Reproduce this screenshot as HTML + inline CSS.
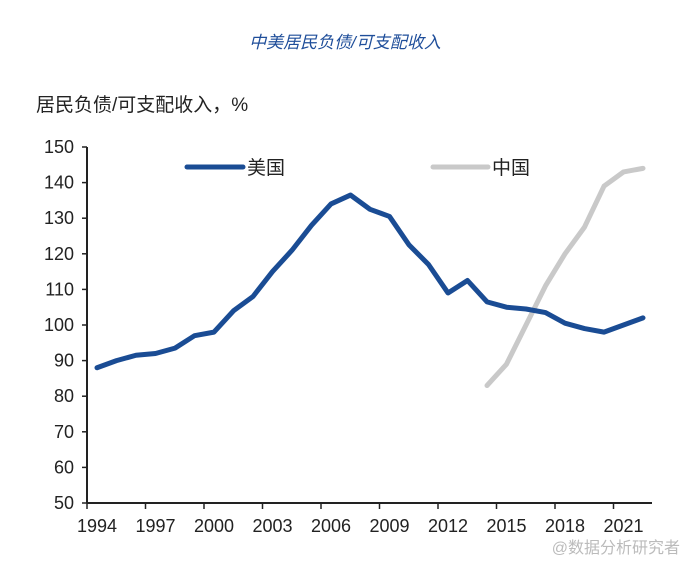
<!DOCTYPE html>
<html><head><meta charset="utf-8"><style>
body{margin:0;background:#fff;}
svg text{font-family:"Liberation Sans","Noto Sans CJK SC",sans-serif;}
</style></head><body>
<svg width="690" height="562" viewBox="0 0 690 562" xmlns="http://www.w3.org/2000/svg">
<rect width="690" height="562" fill="#fff"/>
<text x="345" y="48" text-anchor="middle" font-size="17" font-style="italic" fill="#1f4e9a">中美居民负债/可支配收入</text>
<text x="36" y="111" font-size="19" fill="#222">居民负债/可支配收入，%</text>
<g stroke="#222" stroke-width="2" fill="none">
<line x1="87" y1="147" x2="87" y2="503"/>
<line x1="87" y1="503" x2="652" y2="503"/>
</g>
<g stroke="#222" stroke-width="1.5" id="yt"></g>
<g font-size="18" fill="#222" text-anchor="end" id="yl"></g>
<g font-size="18" fill="#222" text-anchor="middle" id="xl"></g>
<g stroke="#222" stroke-width="1.5" id="xt"></g>
<line x1="187" y1="167" x2="243" y2="167" stroke="#1a4c94" stroke-width="5" stroke-linecap="round"/>
<text x="247" y="174" font-size="19" fill="#222">美国</text>
<line x1="433" y1="167" x2="488" y2="167" stroke="#c9c9c9" stroke-width="5" stroke-linecap="round"/>
<text x="492" y="174" font-size="19" fill="#222">中国</text>
<polyline id="cn" fill="none" stroke="#c9c9c9" stroke-width="5" stroke-linejoin="round" stroke-linecap="round"/>
<polyline id="us" fill="none" stroke="#1a4c94" stroke-width="5" stroke-linejoin="round" stroke-linecap="round"/>
<text x="680" y="553" text-anchor="end" font-size="16" fill="#bbb">@数据分析研究者</text>
</svg>
<script>
var ns="http://www.w3.org/2000/svg";
function Y(v){return 503-(v-50)*3.56;}
function X(i){return 97+i*19.5;}
function el(p,t,a,txt){var e=document.createElementNS(ns,t);for(var k in a)e.setAttribute(k,a[k]);if(txt)e.textContent=txt;document.getElementById(p).appendChild(e);}
for(var v=50;v<=150;v+=10){var y=Y(v);el("yt","line",{x1:82,y1:y,x2:87,y2:y});el("yl","text",{x:74,y:y+6},String(v));}
for(var k=0;k<10;k++){var x=87+k*58.5;el("xt","line",{x1:x,y1:503,x2:x,y2:509});el("xl","text",{x:x+10,y:532},String(1994+3*k));}
var us=[88,90,91.5,92,93.5,97,98,104,108,115,121,128,134,136.5,132.5,130.5,122.5,117,109,112.5,106.5,105,104.5,103.5,100.5,99,98,100,102];
document.getElementById("us").setAttribute("points",us.map(function(v,i){return X(i)+","+Y(v);}).join(" "));
var cn=[83,89,100,111,120,127.5,139,143,144];
document.getElementById("cn").setAttribute("points",cn.map(function(v,i){return X(i+20)+","+Y(v);}).join(" "));
</script>
</body></html>
